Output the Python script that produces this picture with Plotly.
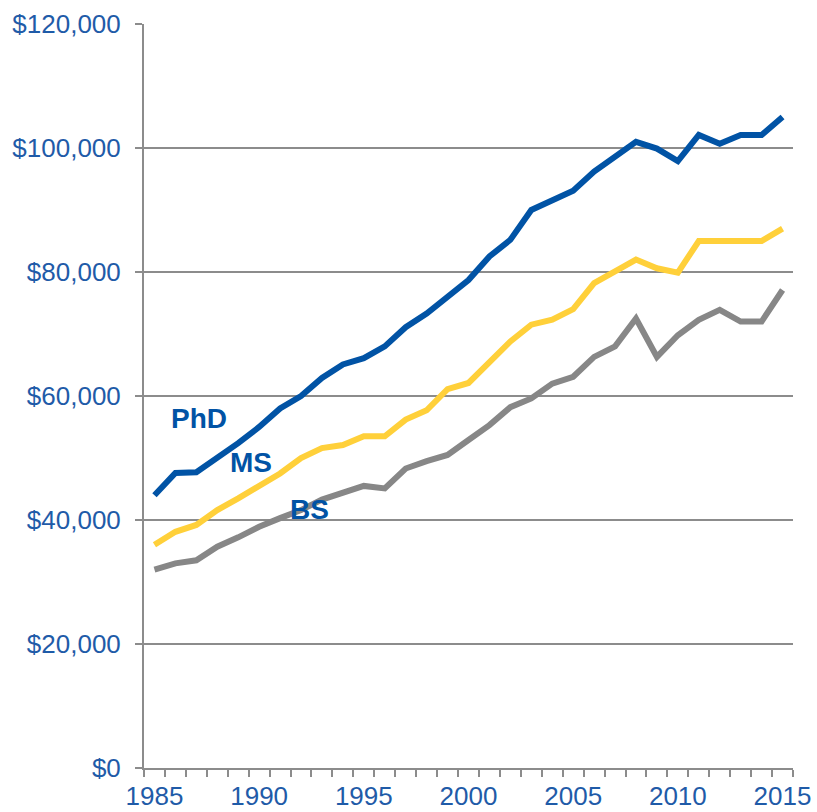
import plotly.graph_objects as go

years = list(range(1985, 2016))
phd = [44000, 47600, 47700, 50000, 52400, 55000, 58000, 60000, 62900, 65100, 66100, 68000,
       71100, 73300, 75900, 78700, 82500, 85200, 90000, 91600, 93100, 96200, 98600, 101000,
       99900, 97900, 102100, 100700, 102100, 102100, 105000]
ms = [36000, 38100, 39200, 41600, 43500, 45400, 47500, 50000, 51600, 52100, 53500, 53500,
      56200, 57700, 61100, 62100, 65300, 68800, 71500, 72300, 74000, 78200, 80100, 82000,
      80600, 79900, 85000, 85000, 85000, 85000, 87000]
bs = [32000, 33000, 33500, 35700, 37200, 38900, 40300, 41600, 43300, 44300, 45500, 45100,
      48300, 49500, 50500, 52900, 55300, 58200, 59600, 62000, 63100, 66300, 68000, 72500,
      66300, 69800, 72300, 73900, 72000, 72000, 77100]
series_names = ["PhD", "MS", "BS"]
series_colors = ["#0153A5", "#FFD03A", "#878787"]
x_tick_years = [1985, 1990, 1995, 2000, 2005, 2010, 2015]
y_ticks = [0, 20000, 40000, 60000, 80000, 100000, 120000]
y_tick_text = ["$0", "$20,000", "$40,000", "$60,000", "$80,000", "$100,000", "$120,000"]
label_pos = {"PhD": (1987.12, 56300), "MS": (1989.6, 49200), "BS": (1992.4, 41700)}

label_blue = "#1F5BA8"
grid = "#8C8C8C"

fig = go.Figure()
for name, vals, col in [("BS", bs, series_colors[2]), ("MS", ms, series_colors[1]), ("PhD", phd, series_colors[0])]:
    fig.add_trace(go.Scatter(x=years, y=vals, mode="lines", name=name,
                             line=dict(color=col, width=6), showlegend=False))

for name in series_names:
    x, y = label_pos[name]
    fig.add_annotation(x=x, y=y, text="<b>%s</b>" % name, showarrow=False,
                       font=dict(family="Liberation Sans, Arial", size=28, color="#0153A5"),
                       xanchor="center", yanchor="middle")

fig.update_layout(
    width=817, height=812,
    margin=dict(l=144, r=24, t=24, b=44, autoexpand=False),
    paper_bgcolor="white", plot_bgcolor="white",
    font=dict(family="Liberation Sans, Arial", color=label_blue),
    xaxis=dict(range=[1984.5, 2015.5], tickvals=x_tick_years, ticks="", automargin=False,
               ticklabeloverflow="allow",
               showgrid=False, zeroline=False, showline=True, linecolor=grid, linewidth=2,
               tickfont=dict(size=26, color=label_blue), ticklabelstandoff=4,
               minor=dict(ticks="outside", dtick=1, tick0=1984.5, ticklen=7,
                          tickcolor=grid, tickwidth=1.5, showgrid=False)),
    yaxis=dict(range=[0, 120000], tickvals=y_ticks, ticktext=y_tick_text, automargin=False,
               ticklabeloverflow="allow",
               ticks="outside", ticklen=7, tickcolor=grid, tickwidth=1.5,
               showgrid=True, gridcolor=grid, gridwidth=1.5, zeroline=False,
               showline=True, linecolor=grid, linewidth=2, ticklabelstandoff=9,
               tickfont=dict(size=26, color=label_blue)),
)

fig.write_html("out.html", config={"displayModeBar": False},
               post_script="document.body.style.margin='0';document.body.style.overflow='hidden';")
